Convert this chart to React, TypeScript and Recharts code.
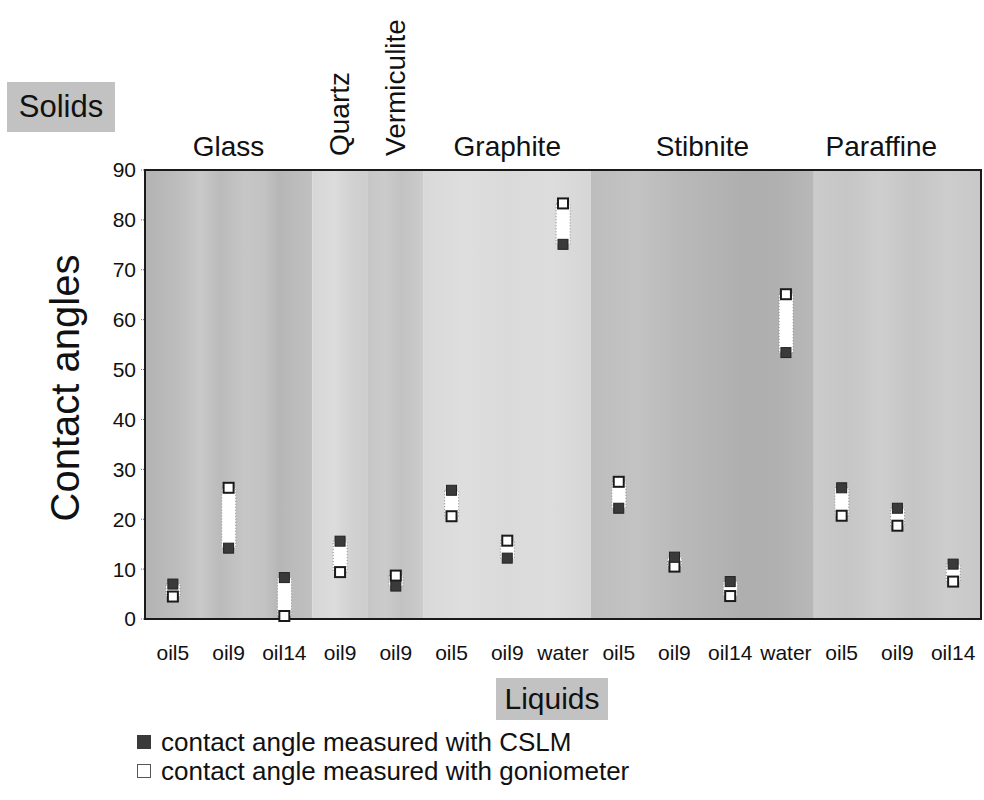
import React from "react";
import { ComposedChart, XAxis, YAxis, Bar, Line, ReferenceArea } from "recharts";

const FONT = '"Liberation Sans", Arial, Helvetica, sans-serif';

const solids = ["Glass", "Quartz", "Vermiculite", "Graphite", "Stibnite", "Paraffine"];
const liquids = [
  "oil5", "oil9", "oil14", "oil9", "oil9", "oil5", "oil9", "water",
  "oil5", "oil9", "oil14", "water", "oil5", "oil9", "oil14",
];
// which solid each liquid column belongs to
const solidOfColumn = [0, 0, 0, 1, 2, 3, 3, 3, 4, 4, 4, 4, 5, 5, 5];
const cslm = [7.0, 14.2, 8.3, 15.6, 6.6, 25.8, 12.2, 75.1, 22.2, 12.4, 7.5, 53.4, 26.3, 22.2, 11.0];
const goniometer = [4.5, 26.3, 0.6, 9.4, 8.7, 20.6, 15.7, 83.3, 27.5, 10.5, 4.6, 65.1, 20.7, 18.7, 7.5];
const yTicks = [0, 10, 20, 30, 40, 50, 60, 70, 80, 90];

const data = liquids.map((liquid, i) => ({
  key: `c${i}`,
  liquid,
  cslm: cslm[i],
  gonio: goniometer[i],
  range: [Math.min(cslm[i], goniometer[i]), Math.max(cslm[i], goniometer[i])],
}));

const groups = solids.map((name, s) => {
  const cols = solidOfColumn.map((g, i) => (g === s ? i : -1)).filter((i) => i >= 0);
  return { name, first: `c${cols[0]}`, last: `c${cols[cols.length - 1]}`, vertical: cols.length === 1, idx: s };
});

// streaky grey of the photo behind each solid: [offset, grey]
const streaks: [number, string][][] = [
  [[0, "#b3b3b3"], [0.2, "#bdbdbd"], [0.33, "#c9c9c9"], [0.45, "#bbbbbb"], [0.6, "#c6c6c6"], [0.72, "#c2c2c2"], [0.8, "#b6b6b6"], [0.9, "#bcbcbc"], [1, "#c0c0c0"]],
  [[0, "#d6d6d6"], [0.4, "#dcdcdc"], [0.7, "#d2d2d2"], [1, "#cdcdcd"]],
  [[0, "#c6c6c6"], [0.3, "#cbcbcb"], [0.6, "#c2c2c2"], [1, "#cccccc"]],
  [[0, "#d9d9d9"], [0.25, "#dedede"], [0.5, "#dadada"], [0.75, "#dddddd"], [1, "#d6d6d6"]],
  [[0, "#bdbdbd"], [0.2, "#c3c3c3"], [0.4, "#b9b9b9"], [0.55, "#b4b4b4"], [0.7, "#aeaeae"], [0.85, "#b1b1b1"], [1, "#b8b8b8"]],
  [[0, "#cbcbcb"], [0.2, "#c6c6c6"], [0.4, "#cecece"], [0.6, "#c5c5c5"], [0.8, "#cdcdcd"], [1, "#c8c8c8"]],
];

const labelShift: Record<string, number> = { Paraffine: -16 };

const GroupLabel = ({ viewBox, name, vertical }: any) => {
  const cx = viewBox.x + viewBox.width / 2 + (labelShift[name] || 0);
  const y = viewBox.y - 14;
  if (vertical) {
    return (
      <text
        x={cx + 9}
        y={y}
        transform={`rotate(-90 ${cx + 9} ${y})`}
        fontFamily={FONT}
        fontSize={28}
        fill="#111"
      >
        {name}
      </text>
    );
  }
  return (
    <text x={cx} y={y} textAnchor="middle" fontFamily={FONT} fontSize={28} fill="#111">
      {name}
    </text>
  );
};

const FilledSquare = (p: any) =>
  p.cx == null ? null : (
    <rect key={`f${p.index}`} x={p.cx - 5} y={p.cy - 5} width={10} height={10} fill="#3a3a3a" stroke="#222" strokeWidth={1} />
  );

const OpenSquare = (p: any) =>
  p.cx == null ? null : (
    <rect key={`o${p.index}`} x={p.cx - 5} y={p.cy - 5} width={10} height={10} fill="#fff" stroke="#1a1a1a" strokeWidth={2} />
  );

const greyBox = {
  position: "absolute" as const,
  background: "#c2c2c2",
  display: "flex",
  alignItems: "center",
  justifyContent: "center",
  fontFamily: FONT,
  color: "#111",
};

const legendText = {
  position: "absolute" as const,
  left: 161,
  fontFamily: FONT,
  fontSize: 26,
  lineHeight: "30px",
  color: "#111",
  whiteSpace: "nowrap" as const,
};

export default function App() {
  return (
    <div style={{ position: "absolute", left: 0, top: 0, width: 984, height: 800, background: "#fff" }}>
      <ComposedChart
        width={984}
        height={800}
        data={data}
        margin={{ top: 170, right: 3, left: 95, bottom: 141 }}
      >
        <defs>
          {streaks.map((stops, s) => (
            <linearGradient key={s} id={`band${s}`} x1="0" y1="0" x2="1" y2="0">
              {stops.map(([o, c], j) => (
                <stop key={j} offset={o} stopColor={c} />
              ))}
            </linearGradient>
          ))}
        </defs>
        {groups.map((g) => (
          <ReferenceArea
            key={g.name}
            x1={g.first}
            x2={g.last}
            y1={0}
            y2={90}
            fill={`url(#band${g.idx})`}
            fillOpacity={1}
            stroke="none"
            label={(props: any) => <GroupLabel {...props} name={g.name} vertical={g.vertical} />}
          />
        ))}
        <ReferenceArea x1="c0" x2="c14" y1={0} y2={90} fill="none" stroke="#1a1a1a" strokeWidth={2} />
        <XAxis
          dataKey="key"
          height={40}
          tickFormatter={(_v: any, i: number) => liquids[i]}
          axisLine={false}
          tickLine={false}
          tickMargin={20}
          tick={{ fontSize: 21, fill: "#111", fontFamily: FONT }}
          interval={0}
        />
        <YAxis
          width={50}
          domain={[0, 90]}
          ticks={yTicks}
          axisLine={false}
          tickSize={4}
          tickMargin={5}
          tickLine={{ stroke: "#666", strokeDasharray: "1 1" }}
          tick={{ fontSize: 21, fill: "#111", fontFamily: FONT }}
        />
        <Bar
          dataKey="range"
          barSize={14}
          fill="#fff"
          stroke="#888"
          strokeDasharray="1 2"
          isAnimationActive={false}
        />
        <Line
          dataKey="gonio"
          stroke="none"
          dot={OpenSquare}
          activeDot={false}
          legendType="none"
          isAnimationActive={false}
        />
        <Line
          dataKey="cslm"
          stroke="none"
          dot={FilledSquare}
          activeDot={false}
          legendType="none"
          isAnimationActive={false}
        />
      </ComposedChart>

      <div style={{ ...greyBox, left: 7, top: 82, width: 108, height: 50, fontSize: 31 }}>Solids</div>

      <div
        style={{
          position: "absolute",
          left: 65,
          top: 388,
          transform: "translate(-50%, -50%) rotate(-90deg)",
          whiteSpace: "nowrap",
          fontFamily: FONT,
          fontSize: 40,
          color: "#111",
        }}
      >
        Contact angles
      </div>

      <div style={{ ...greyBox, left: 496, top: 678, width: 112, height: 42, fontSize: 30 }}>Liquids</div>

      <div style={{ position: "absolute", left: 137, top: 735, width: 14, height: 14, background: "#3a3a3a" }} />
      <div style={{ ...legendText, top: 727 }}>contact angle measured with CSLM</div>
      <div
        style={{ position: "absolute", left: 137, top: 764, width: 12, height: 12, background: "#fff", border: "1px solid #555" }}
      />
      <div style={{ ...legendText, top: 756 }}>contact angle measured with goniometer</div>
    </div>
  );
}
